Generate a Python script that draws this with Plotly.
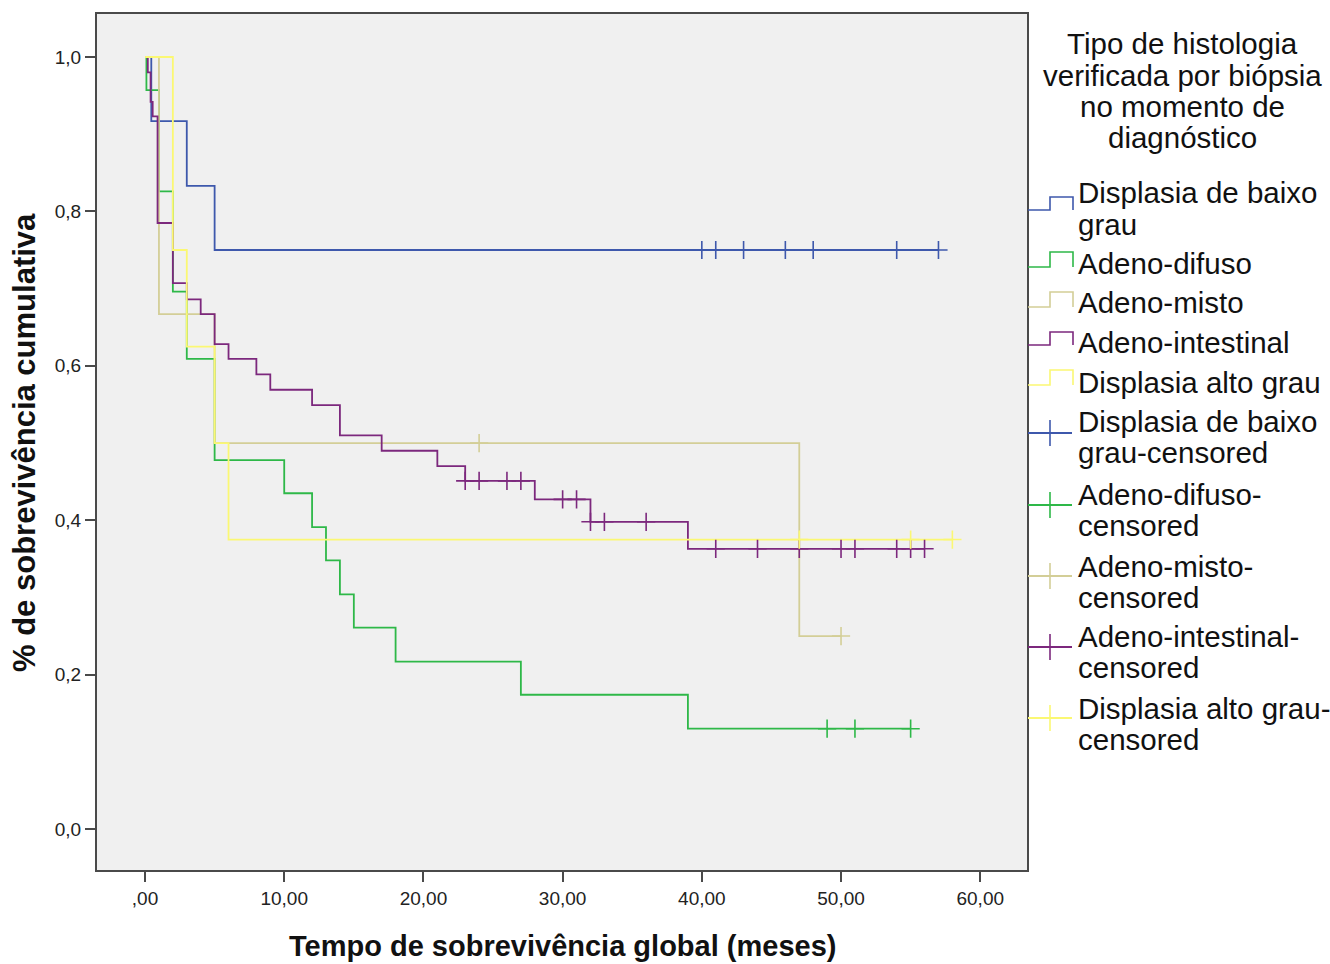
import plotly.graph_objects as go

# ---------------- data ----------------
groups = ["Displasia de baixo grau", "Adeno-difuso", "Adeno-misto",
          "Adeno-intestinal", "Displasia alto grau"]
colors = ["#3E58AC", "#2EB848", "#D3CE97", "#7C287D", "#FBF873"]

# step curves: event times and survival after each time
baixo_t = [0, 0.45, 3, 5, 57]
baixo_s = [1.0, 0.917, 0.833, 0.75, 0.75]
difuso_t = [0, 0.1, 1, 2, 3, 5, 10, 12, 13, 14, 15, 18, 27, 39, 55]
difuso_s = [1.0, 0.957, 0.826, 0.696, 0.609, 0.478, 0.435, 0.391, 0.348,
            0.304, 0.261, 0.217, 0.174, 0.130, 0.130]
misto_t = [0, 1, 5, 47, 50]
misto_s = [1.0, 0.667, 0.5, 0.25, 0.25]
intest_t = [0, 0.2, 0.4, 0.55, 0.9, 2, 3, 4, 5, 6, 8, 9, 12, 14, 17, 21,
            23, 28, 32, 39, 56]
intest_s = [1.0, 0.98, 0.942, 0.923, 0.785, 0.707, 0.686, 0.667, 0.628,
            0.609, 0.589, 0.569, 0.549, 0.510, 0.490, 0.470, 0.451, 0.427,
            0.398, 0.363, 0.363]
alto_t = [0, 2, 3, 5, 6, 58]
alto_s = [1.0, 0.75, 0.625, 0.5, 0.375, 0.375]

# censored observations
baixo_ct = [40, 41, 43, 46, 48, 54, 57]
baixo_cs = [0.75] * 7
difuso_ct = [49, 51, 55]
difuso_cs = [0.130] * 3
misto_ct = [24, 50]
misto_cs = [0.5, 0.25]
intest_ct = [23, 24, 26, 27, 30, 31, 32, 33, 36, 41, 44, 47, 50, 51, 54, 55, 56]
intest_cs = [0.451] * 4 + [0.427] * 2 + [0.398] * 3 + [0.363] * 8
alto_ct = [47, 55, 58]
alto_cs = [0.375] * 3

x_ticks = [0, 10, 20, 30, 40, 50, 60]
x_tick_labels = [",00", "10,00", "20,00", "30,00", "40,00", "50,00", "60,00"]
y_ticks = [0, 0.2, 0.4, 0.6, 0.8, 1.0]
y_tick_labels = ["0,0", "0,2", "0,4", "0,6", "0,8", "1,0"]

legend_title = ["Tipo de histologia", "verificada por biópsia",
                "no momento de", "diagnóstico"]
legend_lines = [["Displasia de baixo", "grau"], ["Adeno-difuso"],
                ["Adeno-misto"], ["Adeno-intestinal"], ["Displasia alto grau"]]
legend_cens_lines = [["Displasia de baixo", "grau-censored"],
                     ["Adeno-difuso-", "censored"],
                     ["Adeno-misto-", "censored"],
                     ["Adeno-intestinal-", "censored"],
                     ["Displasia alto grau-", "censored"]]

curves = [(baixo_t, baixo_s), (difuso_t, difuso_s), (misto_t, misto_s),
          (intest_t, intest_s), (alto_t, alto_s)]
cens = [(baixo_ct, baixo_cs), (difuso_ct, difuso_cs), (misto_ct, misto_cs),
        (intest_ct, intest_cs), (alto_ct, alto_cs)]

# ---------------- layout geometry (pixels) ----------------
W, H = 1330, 964
L, R, T, B = 97, 1027, 14, 870   # plot area edges


def px(xp):
    return (xp - L) / (R - L)


def py(yp):
    return (B - yp) / (B - T)


fig = go.Figure()

for name, col, (t, s) in zip(groups, colors, curves):
    fig.add_trace(go.Scatter(x=t, y=s, mode="lines", line_shape="hv",
                             line=dict(color=col, width=1.8),
                             name=name, showlegend=False, hoverinfo="skip"))
for name, col, (t, s) in zip(groups, colors, cens):
    fig.add_trace(go.Scatter(x=t, y=s, mode="markers",
                             marker=dict(symbol="cross-thin", size=13,
                                         line=dict(color=col, width=1.6)),
                             name=name + "-censored", showlegend=False,
                             hoverinfo="skip"))

shapes = []
annotations = []

TXT_FONT = dict(family="Liberation Sans, Arial, sans-serif", size=29.5, color="#111111")

# legend title
for i, ln in enumerate(legend_title):
    annotations.append(dict(xref="paper", yref="paper", x=px(1182), y=py(44 + i * 31.3),
                            text=ln, showarrow=False, xanchor="center",
                            yanchor="middle", font=TXT_FONT))

# step legend entries
step_text_y = [192, 263, 302, 342, 382]
step_icon_y = [(197, 210), (252, 267), (292, 307), (332, 345), (370, 385)]
for i, col in enumerate(colors):
    top, bot = step_icon_y[i]
    path = (f"M {px(1028)} {py(bot)} L {px(1050)} {py(bot)} L {px(1050)} {py(top)} "
            f"L {px(1073)} {py(top)} L {px(1073)} {py(bot)}")
    shapes.append(dict(type="path", xref="paper", yref="paper", path=path,
                       line=dict(color=col, width=1.6)))
    for j, ln in enumerate(legend_lines[i]):
        annotations.append(dict(xref="paper", yref="paper", x=px(1076),
                                y=py(step_text_y[i] + j * 32), text=ln,
                                showarrow=False, xanchor="left", yanchor="middle",
                                font=TXT_FONT))

# censored legend entries
cens_text_y = [421, 494, 566, 636, 708]
cens_icon_y = [433, 505, 576, 647, 718]
for i, col in enumerate(colors):
    yc = cens_icon_y[i]
    shapes.append(dict(type="line", xref="paper", yref="paper",
                       x0=px(1028), x1=px(1072), y0=py(yc), y1=py(yc),
                       line=dict(color=col, width=1.8)))
    shapes.append(dict(type="line", xref="paper", yref="paper",
                       x0=px(1050), x1=px(1050), y0=py(yc - 13), y1=py(yc + 13),
                       line=dict(color=col, width=1.6)))
    for j, ln in enumerate(legend_cens_lines[i]):
        annotations.append(dict(xref="paper", yref="paper", x=px(1076),
                                y=py(cens_text_y[i] + j * 31.5), text=ln,
                                showarrow=False, xanchor="left", yanchor="middle",
                                font=TXT_FONT))

# axis titles
annotations.append(dict(xref="paper", yref="paper", x=px(562), y=py(946),
                        text="<b>Tempo de sobrevivência global (meses)</b>",
                        showarrow=False, xanchor="center", yanchor="middle",
                        font=dict(family="Liberation Sans, Arial, sans-serif",
                                  size=29, color="#111111")))
annotations.append(dict(xref="paper", yref="paper", x=px(25), y=py(443),
                        text="<b>% de sobrevivência cumulativa</b>", textangle=-90,
                        showarrow=False, xanchor="center", yanchor="middle",
                        font=dict(family="Liberation Sans, Arial, sans-serif",
                                  size=31, color="#111111")))

x0 = -3.45
x1 = 63.36
y0 = -0.053
y1 = 1.0557

fig.update_layout(
    width=W, height=H,
    margin=dict(l=L, r=W - R, t=T, b=H - B),
    paper_bgcolor="white", plot_bgcolor="#F0F0F0",
    showlegend=False,
    shapes=shapes, annotations=annotations,
    xaxis=dict(range=[x0, x1], tickvals=x_ticks, ticktext=x_tick_labels,
               showgrid=False, zeroline=False, showline=True, mirror=True,
               linecolor="#4a4a4a", linewidth=2, ticks="outside", ticklen=10,
               tickcolor="#4a4a4a", tickwidth=1.5,
               tickfont=dict(family="Liberation Sans, Arial, sans-serif",
                             size=19, color="#222222")),
    yaxis=dict(range=[y0, y1], tickvals=y_ticks, ticktext=y_tick_labels,
               showgrid=False, zeroline=False, showline=True, mirror=True,
               linecolor="#4a4a4a", linewidth=2, ticks="outside", ticklen=10,
               tickcolor="#4a4a4a", tickwidth=1.5,
               tickfont=dict(family="Liberation Sans, Arial, sans-serif",
                             size=19, color="#222222")),
)

fig.write_html("out.html")
